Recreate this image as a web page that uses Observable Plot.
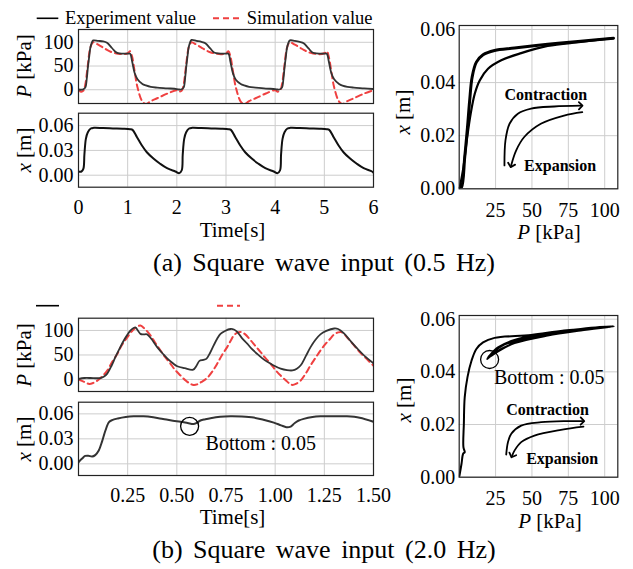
<!DOCTYPE html>
<html><head><meta charset="utf-8">
<script src="https://cdn.jsdelivr.net/npm/d3@7"></script>
<script src="https://cdn.jsdelivr.net/npm/@observablehq/plot@0.6"></script>
<style>
body{margin:0;background:#fff;}
#root{position:relative;width:633px;height:569px;overflow:hidden;background:#fff;font-family:"Liberation Serif","Times New Roman",serif;}
#root svg text{font-family:"Liberation Serif","Times New Roman",serif;}
</style></head><body><div id="root"></div>
<script>
// ---------- (a) 0.5 Hz : pressure vs time ----------
const timeA = [0,0.05,0.1,0.14,0.17,0.19,0.22,0.24,0.27,0.3,0.4,0.5,0.58,0.68,0.75,0.8,0.9,1.0,1.05,1.09,1.14,1.2,1.3,1.37,1.47,1.6,1.81,
  2,2.05,2.1,2.14,2.17,2.19,2.22,2.24,2.27,2.3,2.4,2.5,2.58,2.68,2.75,2.8,2.9,3.0,3.05,3.09,3.14,3.2,3.3,3.37,3.47,3.6,3.81,
  4,4.05,4.1,4.14,4.17,4.19,4.22,4.24,4.27,4.3,4.4,4.5,4.58,4.68,4.75,4.8,4.9,5.0,5.05,5.09,5.14,5.2,5.3,5.37,5.47,5.6,5.81,6];
const expPA = [1,0,1,5,25,46,72,88,99,104,103,102,99,88,80,77,76,76,76,60,36,22,12,9,6,4.5,3,
  1.5,0.5,1,5,26,47,73,89,100,105,103,101,98,87,79,77,76,76,76,59,35,21,12,9,6,4.5,2.5,
  1.5,0.5,1,5,25,46,72,88,99,104,103,101,98,87,79,77,76,76,76,60,36,22,12,8.5,6,4.5,3,1.5];
const simPA = [0,-4,-2,12,35,52,78,88,97,100,95,89,84,79,77,76,75,77,81,70,40,5,-25,-30,-24,-18,-8,
  -1,-4,-2,12,35,53,78,89,97,100,95,89,84,79,77,76,75,77,81,70,40,5,-25,-30,-24,-18,-8,
  -1,-4,-2,12,35,52,78,88,97,100,95,89,84,79,77,76,75,77,81,70,40,5,-25,-30,-24,-18,-8,-1];
// ---------- (a) displacement vs time ----------
const timeXA = [0,0.06,0.1,0.12,0.15,0.19,0.25,0.31,0.5,0.7,0.9,1.05,1.1,1.19,1.29,1.39,1.53,1.66,1.8,1.97,
  2.05,2.1,2.12,2.15,2.19,2.25,2.31,2.5,2.7,2.9,3.05,3.1,3.19,3.29,3.39,3.53,3.66,3.8,3.97,
  4.05,4.1,4.12,4.15,4.19,4.25,4.31,4.5,4.7,4.9,5.05,5.1,5.19,5.29,5.39,5.53,5.66,5.8,5.97,6];
const posA = [0.0045,0.0045,0.008,0.025,0.044,0.052,0.0565,0.0573,0.057,0.0566,0.0563,0.0557,0.0548,0.046,0.0359,0.0278,0.0198,0.0138,0.0085,0.0045,
  0.0025,0.006,0.025,0.044,0.052,0.0565,0.0573,0.057,0.0566,0.0563,0.0557,0.0548,0.046,0.0359,0.0278,0.0198,0.0138,0.0085,0.0045,
  0.0025,0.006,0.025,0.044,0.052,0.0565,0.0573,0.057,0.0566,0.0563,0.0557,0.0548,0.046,0.0359,0.0278,0.0198,0.0138,0.0085,0.0045,0.003];
// ---------- (a) hysteresis x vs P (contraction branch, expansion branch) ----------
const loopContrPA = [0,1.6,3.8,5.7,7.2,8.9,11.8,16.4,24.3,38,60.8,83.5,104,106];
const loopContrXA = [0,0.0006,0.0119,0.0232,0.0333,0.0421,0.0477,0.0505,0.0521,0.053,0.0544,0.0556,0.0566,0.0567];
const loopExpPA = [106,104,83.5,60.8,42.6,28.9,19.8,14.1,10.7,7.9,5.2,2.9,0.2];
const loopExpXA = [0.0567,0.0566,0.0553,0.0538,0.0511,0.0484,0.0452,0.0408,0.0358,0.0283,0.0182,0.0081,0];

// ---------- (b) 2.0 Hz : pressure vs time ----------
const timeExpB = [0,0.03,0.061,0.09,0.112,0.13,0.146,0.168,0.188,0.21,0.231,0.25,0.265,0.28,0.29,0.3,0.315,0.33,0.349,0.37,0.4,0.43,0.451,0.48,0.502,0.54,0.583,0.6,0.615,0.635,0.65,0.67,0.688,0.705,0.722,0.745,0.773,0.79,0.807,0.83,0.858,0.88,0.909,0.935,0.96,0.99,1.028,1.06,1.088,1.11,1.13,1.155,1.18,1.205,1.23,1.26,1.3,1.32,1.35,1.38,1.418,1.46,1.5];
const expPB = [1,3,3,2.5,3,6,12,28,46,64,80,92,100,105,106,101,93,92,92,83,66,52,43,33,27,23,20,28,38,40,42,55,70,83,93,99,103,102,97,85,73,63,52,43,36,29,22,19,18.5,22,29,47,66,81,92,99,104,103,94,80,63,46,33];
const timeSimB = [0,0.03,0.054,0.075,0.097,0.12,0.146,0.17,0.197,0.22,0.248,0.275,0.3,0.315,0.335,0.366,0.39,0.417,0.44,0.468,0.49,0.519,0.545,0.569,0.585,0.603,0.625,0.654,0.68,0.705,0.73,0.756,0.775,0.79,0.81,0.824,0.845,0.875,0.9,0.926,0.95,0.977,1.0,1.028,1.055,1.075,1.088,1.105,1.13,1.155,1.18,1.205,1.23,1.255,1.28,1.3,1.32,1.335,1.35,1.37,1.4,1.43,1.465,1.5];
const simPB = [0,-5,-9,-7,-2,6,18,35,52,70,86,100,108,110,104,90,75,59,46,32,20,8,-2,-9,-11,-10,-5,3,16,32,50,66,80,90,96,97,93,80,68,56,44,32,20,8,-2,-9,-11,-9,-2,12,29,44,59,72,83,92,96,97,93,84,70,56,42,28];
// ---------- (b) displacement vs time ----------
const timeXB = [0,0.017,0.034,0.05,0.069,0.085,0.103,0.12,0.137,0.155,0.171,0.2,0.24,0.281,0.33,0.38,0.43,0.48,0.519,0.555,0.585,0.6,0.62,0.645,0.671,0.72,0.773,0.83,0.891,0.94,0.993,1.03,1.057,1.075,1.1,1.12,1.145,1.19,1.23,1.3,1.365,1.43,1.5];
const posB = [0.0019,0.006,0.0095,0.0098,0.0088,0.0105,0.016,0.027,0.04,0.05,0.0525,0.0545,0.0563,0.0571,0.057,0.0558,0.0538,0.0518,0.0505,0.049,0.0478,0.049,0.052,0.0535,0.0548,0.0565,0.057,0.0567,0.0555,0.053,0.0495,0.0462,0.044,0.0443,0.049,0.052,0.054,0.0562,0.057,0.0572,0.057,0.0553,0.0505];
// ---------- (b) hysteresis x vs P ----------
const loopPB = [0,1.6,2.7,3.8,2.9,3.2,3.8,5.7,8.5,11.8,16.4,24.3,49.4,72.1,105, 83.5,60.8,42.6,28.9,22,19.3, 21,26.7,38,60.8,83.5,106.4, 83.5,60.8,38,26.7,19.8, 22,31.2,49.4,83.5,104];
const loopXB = [0,0.0051,0.0089,0.0095,0.0114,0.0203,0.0304,0.038,0.0443,0.0487,0.0512,0.0529,0.054,0.0557,0.0572, 0.0559,0.0541,0.0519,0.0487,0.0462,0.0449, 0.0462,0.0493,0.0521,0.0547,0.0563,0.0573, 0.0557,0.0538,0.0509,0.0478,0.0453, 0.0468,0.0504,0.0531,0.0559,0.0571];

// ---------- annotation paths (data units) ----------
const arrA_contrP = [31.1,31.8,34.6,40.3,49.4,65.3,83.5], arrA_contrX = [0.0088,0.0182,0.0245,0.0283,0.0302,0.031,0.0313];
const arrA_expP = [84.6,72.1,56.1,44.7,39.1,35.7], arrA_expX = [0.0289,0.0276,0.0245,0.0195,0.0144,0.0088];
const arrB_contrP = [32.3,33.5,35.8,42.6,56.3,74.5,84.7], arrB_contrX = [0.0086,0.0133,0.0165,0.0196,0.0209,0.0213,0.0213];
const arrB_expP = [85.4,69.9,51.7,42.6,38,36.4], arrB_expX = [0.0192,0.018,0.0158,0.0133,0.0101,0.0082];

// ---------- tick labels ----------
const ticksTimeA = [0,1,2,3,4,5,6];
const ticksTimeB = [0.25,0.5,0.75,1.0,1.25,1.5];
const ticksP = [0,50,100];
const ticksX3 = [0,0.03,0.06];
const ticksPloop = [25,50,75,100];
const ticksXloop = [0,0.02,0.04,0.06];

const SERIF = "Liberation Serif, Times New Roman, serif";
const EXP = "#333", SIM = "#ef4040";
const root = document.getElementById("root");
const zipXY = (xs, ys) => xs.map((x, i) => ({x, y: ys[i]}));

function panel(o) {
  const {left, top, width, height, fl, fr, ft, fb} = o;
  const marks = [
    Plot.gridX(o.xg, {stroke: "#cdcdcd", strokeOpacity: 1, strokeWidth: 1}),
    Plot.gridY(o.yg, {stroke: "#cdcdcd", strokeOpacity: 1, strokeWidth: 1}),
    ...o.marks,
    Plot.frame({stroke: "#222", strokeWidth: 1.2}),
    Plot.axisY(o.yt, {tickSize: 0, tickPadding: o.ypad ?? 5, tickFormat: o.yf, label: null, fontFamily: SERIF, fontSize: 20})
  ];
  if (o.xt) marks.push(Plot.axisX(o.xt, {tickSize: 0, tickPadding: o.xpad, tickFormat: o.xf, label: null, fontFamily: SERIF, fontSize: 20}));
  const svg = Plot.plot({
    width, height,
    marginLeft: fl - left, marginRight: left + width - fr,
    marginTop: ft - top, marginBottom: top + height - fb,
    x: {domain: o.xd, axis: null}, y: {domain: o.yd, axis: null},
    style: {fontFamily: SERIF, fontSize: "20px", color: "#000", background: "transparent", overflow: "visible"},
    marks
  });
  svg.style.position = "absolute";
  svg.style.left = left + "px";
  svg.style.top = top + "px";
  root.appendChild(svg);
}

const lineOpts = (stroke, w, dash) => ({x: "x", y: "y", stroke, strokeWidth: w, strokeDasharray: dash, clip: true, curve: "catmull-rom"});
const bold = {textAnchor: "start", fontSize: 16, fontWeight: "bold", lineAnchor: "middle", fontFamily: SERIF};

// (a) P vs time
panel({left: 0, top: 0, width: 380, height: 108, fl: 78, fr: 373, ft: 29, fb: 103,
  xd: [0, 6], yd: [-29, 127], xg: [1,2,3,4,5], yg: ticksP, yt: ticksP,
  marks: [
    Plot.line(zipXY(timeA, simPA), lineOpts(SIM, 2, "6,4")),
    Plot.line(zipXY(timeA, expPA), lineOpts(EXP, 1.8))
  ]});
// (a) x vs time
panel({left: 0, top: 106, width: 380, height: 134, fl: 78, fr: 373, ft: 112.7, fb: 186.7,
  xd: [0, 6], yd: [-0.0145, 0.075], xg: [1,2,3,4,5], yg: ticksX3, yt: ticksX3, yf: d3.format(".2f"),
  xt: ticksTimeA, xpad: 13,
  marks: [Plot.line(zipXY(timeXA, posA), lineOpts("#111", 2))]});
// (a) loop
panel({left: 390, top: 10, width: 243, height: 225, fl: 458.7, fr: 617.3, ft: 25, fb: 188.3,
  xd: [0, 109], yd: [0, 0.0615], xg: ticksPloop, yg: ticksXloop, yt: ticksXloop, yf: d3.format(".2f"), ypad: 4,
  xt: ticksPloop, xpad: 14,
  marks: [
    Plot.line(zipXY(loopExpPA, loopExpXA), {x: "x", y: "y", stroke: "#000", strokeWidth: 2.2, curve: "catmull-rom", clip: true}),
    Plot.line(zipXY(loopContrPA, loopContrXA), {x: "x", y: "y", stroke: "#000", strokeWidth: 3, curve: "catmull-rom", clip: true}),
    Plot.line(zipXY(arrA_contrP, arrA_contrX), {x: "x", y: "y", stroke: "#000", strokeWidth: 1.8, curve: "catmull-rom", markerEnd: "arrow"}),
    Plot.line(zipXY(arrA_expP, arrA_expX), {x: "x", y: "y", stroke: "#000", strokeWidth: 1.8, curve: "catmull-rom", markerEnd: "arrow"}),
    Plot.text(["Contraction", "Expansion"], {x: [31.1, 44.6], y: [0.0355, 0.0085], text: d => d, ...bold})
  ]});

// (b) P vs time
panel({left: 0, top: 312, width: 380, height: 84, fl: 78, fr: 373, ft: 317.7, fb: 391,
  xd: [0, 1.5], yd: [-24.5, 125], xg: [0.25,0.5,0.75,1.0,1.25], yg: ticksP, yt: ticksP,
  marks: [
    Plot.line(zipXY(timeSimB, simPB), lineOpts(SIM, 2, "6,4")),
    Plot.line(zipXY(timeExpB, expPB), lineOpts(EXP, 1.8))
  ]});
// (b) x vs time
panel({left: 0, top: 396, width: 380, height: 130, fl: 78, fr: 373, ft: 401.7, fb: 475,
  xd: [0, 1.5], yd: [-0.014, 0.074], xg: [0.25,0.5,0.75,1.0,1.25], yg: ticksX3, yt: ticksX3, yf: d3.format(".2f"),
  xt: ticksTimeB, xpad: 12.6, xf: d3.format(".2f"),
  marks: [
    Plot.line(zipXY(timeXB, posB), lineOpts(EXP, 2)),
    Plot.dot([0], {x: [0.565], y: [0.045], r: 9, stroke: "#000", fill: "none", strokeWidth: 1.3}),
    Plot.text(["Bottom : 0.05"], {x: [0.646], y: [0.024], text: d => d, textAnchor: "start", fontSize: 20, lineAnchor: "middle", fontFamily: SERIF})
  ]});
// (b) loop
panel({left: 390, top: 300, width: 243, height: 226, fl: 458.7, fr: 617.3, ft: 315, fb: 476.7,
  xd: [0, 109], yd: [0, 0.0614], xg: ticksPloop, yg: ticksXloop, yt: ticksXloop, yf: d3.format(".2f"), ypad: 4,
  xt: ticksPloop, xpad: 14,
  marks: [
    Plot.line(zipXY(loopPB, loopXB), {x: "x", y: "y", stroke: "#000", strokeWidth: 2, curve: "catmull-rom", clip: true}),
    Plot.dot([0], {x: [20.9], y: [0.0447], r: 9, stroke: "#000", fill: "none", strokeWidth: 1.3}),
    Plot.text(["Bottom : 0.05"], {x: [23.9], y: [0.0378], text: d => d, textAnchor: "start", fontSize: 20, lineAnchor: "middle", fontFamily: SERIF}),
    Plot.line(zipXY(arrB_contrP, arrB_contrX), {x: "x", y: "y", stroke: "#000", strokeWidth: 1.8, curve: "catmull-rom", markerEnd: "arrow"}),
    Plot.line(zipXY(arrB_expP, arrB_expX), {x: "x", y: "y", stroke: "#000", strokeWidth: 1.8, curve: "catmull-rom", markerEnd: "arrow"}),
    Plot.text(["Contraction", "Expansion"], {x: [32.3, 46], y: [0.0257, 0.007], text: d => d, ...bold})
  ]});

// ---------- overlay: legend, axis labels, captions ----------
const NS = "http://www.w3.org/2000/svg";
const ov = document.createElementNS(NS, "svg");
ov.setAttribute("width", 633); ov.setAttribute("height", 569);
ov.style.position = "absolute"; ov.style.left = "0px"; ov.style.top = "0px"; ov.style.pointerEvents = "none";
ov.style.fontFamily = SERIF;
root.appendChild(ov);
function line(x1, x2, y, stroke, w, dash) {
  const l = document.createElementNS(NS, "line");
  l.setAttribute("x1", x1); l.setAttribute("x2", x2); l.setAttribute("y1", y); l.setAttribute("y2", y);
  l.setAttribute("stroke", stroke); l.setAttribute("stroke-width", w);
  if (dash) l.setAttribute("stroke-dasharray", dash);
  ov.appendChild(l);
}
function text(html, x, y, size, anchor, rotate, extra) {
  const t = document.createElementNS(NS, "text");
  t.setAttribute("x", x); t.setAttribute("y", y);
  t.setAttribute("font-size", size);
  t.setAttribute("text-anchor", anchor || "middle");
  t.setAttribute("dominant-baseline", "central");
  if (rotate) t.setAttribute("transform", `rotate(-90 ${x} ${y})`);
  if (extra) t.setAttribute("style", extra);
  t.innerHTML = html;
  ov.appendChild(t);
}
// legends
line(36.7, 58.3, 18.3, "#000", 1.6);
text("Experiment value", 65, 18.3, 18.5, "start");
line(213, 240, 18.3, SIM, 2, "6,4");
text("Simulation value", 246.7, 18.3, 18.5, "start");
line(36, 59, 305.7, "#000", 1.6);
line(217, 240, 305.7, SIM, 2, "6,4");
// axis labels
const Pk = '<tspan font-style="italic">P</tspan> [kPa]';
const Xm = '<tspan font-style="italic">x</tspan> [m]';
text(Pk, 24, 66, 21, "middle", true);
text(Xm, 24, 150, 21, "middle", true);
text(Pk, 24, 355, 21, "middle", true);
text(Xm, 24, 439, 21, "middle", true);
text(Xm, 403, 112, 21, "middle", true);
text(Xm, 404, 400, 21, "middle", true);
text(Pk, 549, 232, 21, "middle");
text(Pk, 550, 521, 21, "middle");
text("Time[s]", 232.5, 230, 21, "middle");
text("Time[s]", 232.5, 517, 21, "middle");
// captions
text("(a) Square wave input (0.5 Hz)", 324, 262.7, 26, "middle", false, "word-spacing:4px");
text("(b) Square wave input (2.0 Hz)", 324, 549, 26, "middle", false, "word-spacing:4px");
</script></body></html>
